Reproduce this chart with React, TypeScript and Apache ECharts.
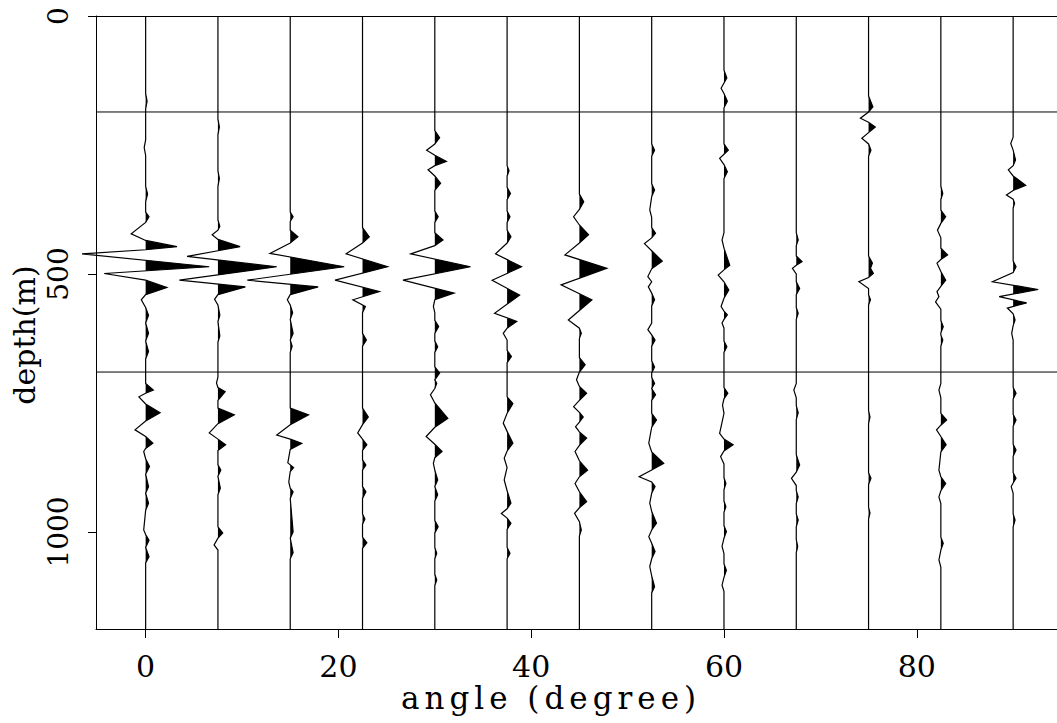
import React, { useEffect, useRef } from "react";
import * as echarts from "echarts";

// ---- axes ----
const ANGLE_MIN = -5.15;
const ANGLE_MAX = 94.55;
const DEPTH_MAX = 1188;
const X_TICKS = [0, 20, 40, 60, 80];
const Y_TICKS = [0, 500, 1000];
const HORIZONS = [186, 690];
const X_NAME = "angle (degree)";
const Y_NAME = "depth(m)";

// ---- trace offsets (degree) ----
const ANGLES = [0, 7.5, 15, 22.5, 30, 37.5, 45, 52.5, 60, 67.5, 75, 82.5, 90];

// ---- wiggle samples per trace: [depth (m), amplitude (degree)] ----
const TRACE_0 = [[150,0],[165,0.15],[180,0],[240,0],[255,-0.15],[270,0],[330,0],[345,0.2],[360,0],[380,0],[389,0.35],[400,0],[422,-1.5],[435,0],[447,3.25],[453,0],[461,-6.6],[486,6.6],[499,-4.3],[512,0],[526,2.2],[540,0],[550,-0.45],[565,0],[580,0.3],[595,0],[615,0.3],[630,0],[650,0.3],[665,0],[712,0],[725,0.8],[731,0],[738,-0.7],[752,0],[769,1.5],[785,0],[802,-1.1],[815,0],[828,0.75],[838,0],[844,-0.2],[858,0],[873,0.4],[888,0],[912,0.3],[925,0],[944,0.3],[958,0],[996,-0.2],[1005,0],[1016,0.35],[1030,0],[1048,0.35],[1060,0]];
const TRACE_1 = [[200,0],[215,0.15],[230,0],[300,0],[315,0.15],[330,0],[395,0],[408,0.2],[415,0],[424,-0.6],[433,0],[447,2.3],[455,0],[466,-3.2],[486,6.1],[512,-4.0],[525,2.85],[540,0],[549,-0.35],[560,0],[580,0.2],[592,0],[620,0.2],[632,0],[700,0],[711,-0.15],[720,0],[728,0.75],[745,0],[760,0],[773,1.7],[790,0],[808,-0.9],[820,0],[831,0.8],[842,0],[870,0],[880,0.3],[892,0],[915,0.25],[928,0],[990,0],[1002,0.5],[1012,0],[1025,-0.4],[1035,0]];
const TRACE_2 = [[380,0],[389,0.3],[398,0],[415,0],[428,0.8],[440,0],[460,-2.1],[486,5.6],[512,-4.45],[525,2.9],[540,0],[550,-0.3],[560,0],[575,0.25],[588,0],[615,0.3],[628,0],[640,0.2],[652,0],[760,0],[773,1.9],[792,0],[812,-1.4],[820,0],[828,1.2],[840,0],[866,-0.25],[875,0.35],[883,0],[903,-0.15],[915,0],[922,0.3],[935,0],[1000,0.3],[1012,0],[1040,0.3],[1052,0]];
const TRACE_3 = [[410,0],[428,0.7],[440,0],[461,-1.7],[486,2.6],[512,-2.85],[534,1.75],[550,-1.0],[563,0.3],[575,0],[615,0],[628,0.4],[640,0],[760,0],[777,0.6],[792,0],[808,-0.5],[820,0],[831,0.45],[842,0],[860,0],[870,0.35],[880,0],[912,0],[922,0.35],[935,0],[965,0],[975,0.25],[985,0],[1010,0],[1021,0.45],[1032,0]];
const TRACE_4 = [[222,0],[236,0.5],[248,0],[260,-0.85],[270,0],[282,1.2],[290,0],[298,-0.7],[310,0],[324,0.6],[338,0],[378,0],[389,0.35],[400,0],[420,0],[434,0.85],[445,0],[461,-2.5],[486,3.7],[512,-3.3],[537,2.0],[550,0],[563,-0.15],[575,0],[590,0],[602,0.4],[615,0],[630,0],[641,0.3],[652,0],[680,0],[692,0.5],[705,0],[712,0.2],[722,0],[734,-0.45],[750,0],[780,1.35],[797,0],[815,-0.9],[830,0],[844,0.75],[856,0],[867,-0.15],[880,0],[899,0.3],[912,0],[928,0.3],[940,0],[978,0],[990,0.35],[1002,0],[1030,0],[1041,0.2],[1052,0],[1082,0],[1093,0.2],[1104,0]];
const TRACE_5 = [[290,0],[300,0.2],[310,0],[332,0],[344,0.35],[356,0],[378,0],[389,0.3],[400,0],[415,0],[428,0.4],[440,0],[461,-1.2],[486,1.5],[512,-1.55],[541,1.3],[576,-1.3],[592,1.0],[605,0],[615,-0.4],[628,0],[648,0],[660,0.45],[672,0],[738,0],[751,0.6],[770,0],[789,-0.4],[805,0],[828,0.6],[843,0],[857,-0.3],[875,0],[899,-0.3],[920,0],[944,0.4],[955,0],[964,-0.6],[973,0],[983,0.4],[995,0],[1030,0],[1041,0.3],[1052,0]];
const TRACE_6 = [[345,0],[360,0.45],[375,0],[389,-0.6],[405,0],[424,0.95],[440,0],[463,-1.5],[489,2.85],[521,-1.9],[550,1.3],[589,-1.15],[605,0],[615,0.2],[625,0],[662,0],[676,0.6],[690,0],[705,-0.3],[718,0],[731,0.75],[745,0],[757,-0.6],[768,0],[777,0.4],[787,0],[796,-0.4],[806,0],[818,0.75],[832,0],[844,-0.45],[862,0],[880,0.85],[893,0],[906,-0.45],[922,0],[941,0.75],[953,0],[964,-0.5],[980,0],[996,0.2],[1008,0]];
const TRACE_7 = [[248,0],[260,0.3],[272,0],[325,0],[337,0.3],[350,0],[376,-0.2],[390,0],[410,0],[421,0.4],[430,0],[441,-0.75],[455,0],[475,1.1],[490,0],[505,-0.4],[515,0],[525,-0.35],[537,0],[550,0.3],[562,0],[595,0],[608,-0.4],[618,0],[628,0.35],[640,0],[668,0],[680,0.3],[692,0],[700,0],[712,0.3],[722,0],[734,0.4],[745,0],[770,0],[783,0.5],[797,0],[828,-0.3],[845,0],[867,1.25],[880,0],[893,-1.3],[903,0],[912,0.35],[925,0],[944,-0.2],[960,0],[983,0.5],[996,0],[1009,-0.3],[1022,0],[1038,0.35],[1052,0],[1067,-0.2],[1085,0],[1106,0.3],[1118,0]];
const TRACE_8 = [[105,0],[120,0.3],[130,0],[140,-0.3],[150,0],[165,0.35],[178,0],[248,0],[260,0.45],[268,0],[276,-0.45],[288,0],[302,0.35],[315,0],[420,0],[434,-0.2],[450,0],[483,0.6],[492,0],[502,-0.6],[515,0],[531,0.5],[547,0],[563,-0.3],[572,0],[579,0.35],[588,0],[595,-0.2],[605,0],[630,0],[641,0.3],[652,0],[720,0],[731,0.4],[742,0],[754,-0.15],[770,0],[809,-0.45],[820,0],[831,0.95],[843,0],[854,-0.35],[868,0],[895,0],[906,0.2],[918,0],[940,0],[951,0.2],[962,0],[988,0],[999,0.25],[1012,0],[1028,-0.2],[1042,0],[1062,0],[1074,0.25],[1088,0],[1103,-0.2],[1115,0]];
const TRACE_9 = [[420,0],[434,0.2],[445,0],[465,0],[476,0.6],[483,0],[489,-0.4],[500,0],[515,0],[528,0.35],[540,0],[565,0],[576,0.2],[588,0],[712,0],[725,-0.25],[740,0],[755,0],[769,0.2],[782,0],[850,0],[870,0.35],[884,0],[896,-0.5],[910,0],[920,0],[932,0.2],[945,0],[965,0],[977,0.2],[990,0],[1015,0],[1028,0.15],[1040,0]];
const TRACE_10 = [[155,0],[176,0.45],[186,0],[198,-0.85],[206,0],[215,0.7],[226,0],[237,-0.7],[248,0],[260,0.25],[272,0],[465,0],[479,0.4],[489,0.2],[499,0.5],[507,0],[515,-1.0],[528,0],[540,0],[550,0.2],[560,0],[765,0],[777,0.15],[790,0],[885,0],[896,0.25],[908,0],[952,0],[963,0.15],[975,0]];
const TRACE_11 = [[330,0],[344,0.2],[356,0],[376,0],[389,0.5],[402,0],[415,-0.35],[430,0],[450,0],[463,0.7],[472,0],[479,-0.4],[495,0],[512,0.5],[524,0],[534,-0.4],[544,-0.2],[554,-0.55],[568,0],[590,0],[602,0.25],[614,0],[618,0],[628,0.2],[640,0],[712,0],[725,-0.2],[740,0],[770,0],[783,0.6],[793,0],[802,-0.45],[815,0],[831,0.55],[845,0],[880,-0.2],[893,0],[906,0.5],[920,0],[932,-0.2],[945,0],[1010,0],[1022,0.25],[1035,0],[1054,-0.2],[1068,0]];
const TRACE_12 = [[235,0],[247,-0.25],[260,0],[279,0.25],[290,0],[298,-0.5],[310,0],[328,1.3],[338,0],[347,-0.7],[355,0],[363,0.15],[372,0],[475,0],[486,0.3],[497,0],[515,-2.15],[530,2.6],[544,-1.45],[556,1.4],[566,-0.6],[577,0],[589,0.2],[600,0],[615,-0.15],[628,0],[720,0],[731,0.3],[742,0],[772,0],[783,0.3],[795,0],[830,0],[841,0.3],[853,0],[885,0],[896,0.3],[905,0],[912,-0.2],[925,0],[965,0],[977,0.2],[990,0]];

const TRACES = [TRACE_0, TRACE_1, TRACE_2, TRACE_3, TRACE_4, TRACE_5, TRACE_6, TRACE_7, TRACE_8, TRACE_9, TRACE_10, TRACE_11, TRACE_12];

const FONT = "DejaVu Serif";

function renderTrace(params: any, api: any) {
  const i = params.dataIndex;
  const a = api.value(0);
  const pts: number[][] = [[0, 0], ...TRACES[i], [DEPTH_MAX, 0]];
  const line = pts.map(([d, v]) => api.coord([a + v, d]));
  const fillPts: number[][] = [];
  for (let k = 0; k < pts.length; k++) {
    const [d, v] = pts[k];
    if (k > 0) {
      const [d0, v0] = pts[k - 1];
      if ((v0 > 0 && v < 0) || (v0 < 0 && v > 0)) {
        const dc = d0 + (d - d0) * (v0 / (v0 - v));
        fillPts.push(api.coord([a, dc]));
      }
    }
    fillPts.push(api.coord([a + Math.max(v, 0), d]));
  }
  return {
    type: "group",
    silent: true,
    children: [
      { type: "polygon", shape: { points: fillPts }, style: { fill: "#000", stroke: "none", lineWidth: 0 } },
      { type: "polyline", shape: { points: line }, style: { stroke: "#000", lineWidth: 1.2, fill: "none" } },
    ],
  };
}

function renderHorizon(params: any, api: any) {
  const d = api.value(1);
  const p1 = api.coord([ANGLE_MIN, d]);
  const p2 = api.coord([ANGLE_MAX, d]);
  return {
    type: "line",
    silent: true,
    shape: { x1: p1[0], y1: p1[1], x2: p2[0], y2: p2[1] },
    style: { stroke: "#000", lineWidth: 1 },
  };
}

export default function App() {
  const ref = useRef<HTMLDivElement>(null);
  useEffect(() => {
    if (!ref.current) return;
    const chart = echarts.init(ref.current, null, { renderer: "svg" });
    chart.setOption({
      animation: false,
      backgroundColor: "#fff",
      grid: { left: 96, top: 16, right: 0, bottom: 94, containLabel: false },
      xAxis: [
        {
          type: "value",
          min: ANGLE_MIN,
          max: ANGLE_MAX,
          position: "bottom",
          axisLine: { show: true, onZero: false, lineStyle: { color: "#000", width: 1 } },
          axisTick: { show: true, length: 9, customValues: X_TICKS, lineStyle: { color: "#000", width: 1 } },
          axisLabel: { customValues: X_TICKS, fontFamily: FONT, fontSize: 30, color: "#000", margin: 22, formatter: (v: number) => String(v) },
          splitLine: { show: false },
        },
        {
          type: "value",
          min: ANGLE_MIN,
          max: ANGLE_MAX,
          position: "top",
          axisLine: { show: true, onZero: false, lineStyle: { color: "#000", width: 1 } },
          axisTick: { show: false },
          axisLabel: { show: false },
          splitLine: { show: false },
        },
      ],
      yAxis: {
        type: "value",
        min: 0,
        max: DEPTH_MAX,
        inverse: true,
        axisLine: { show: true, onZero: false, lineStyle: { color: "#000", width: 1 } },
        axisTick: { show: true, length: 8, customValues: Y_TICKS, lineStyle: { color: "#000", width: 1 } },
        axisLabel: { customValues: Y_TICKS, rotate: 90, fontFamily: FONT, fontSize: 28, color: "#000", margin: 24, formatter: (v: number) => String(v) },
        splitLine: { show: false },
      },
      graphic: [
        {
          type: "text",
          x: 551,
          y: 698,
          silent: true,
          style: { text: X_NAME, fontFamily: FONT, fontSize: 31, fill: "#000", align: "center", verticalAlign: "middle" },
        },
        {
          type: "text",
          x: 24,
          y: 335,
          rotation: Math.PI / 2,
          silent: true,
          style: { text: Y_NAME, fontFamily: FONT, fontSize: 30, fill: "#000", align: "center", verticalAlign: "middle" },
        },
      ],
      series: [
        {
          type: "custom",
          name: "horizons",
          xAxisIndex: 0,
          yAxisIndex: 0,
          clip: false,
          renderItem: renderHorizon,
          data: HORIZONS.map((d) => [ANGLE_MIN, d]),
        },
        {
          type: "custom",
          name: "traces",
          xAxisIndex: 0,
          yAxisIndex: 0,
          clip: false,
          renderItem: renderTrace,
          data: ANGLES.map((a) => [a, 0]),
        },
      ],
    });
    const svg = ref.current.querySelector("svg");
    if (svg) {
      svg.querySelectorAll("text").forEach((t) => {
        if (t.textContent === X_NAME) t.setAttribute("letter-spacing", "5");
      });
    }
    return () => chart.dispose();
  }, []);
  return <div ref={ref} style={{ position: "absolute", left: 0, top: 0, width: 1057, height: 723 }} />;
}
